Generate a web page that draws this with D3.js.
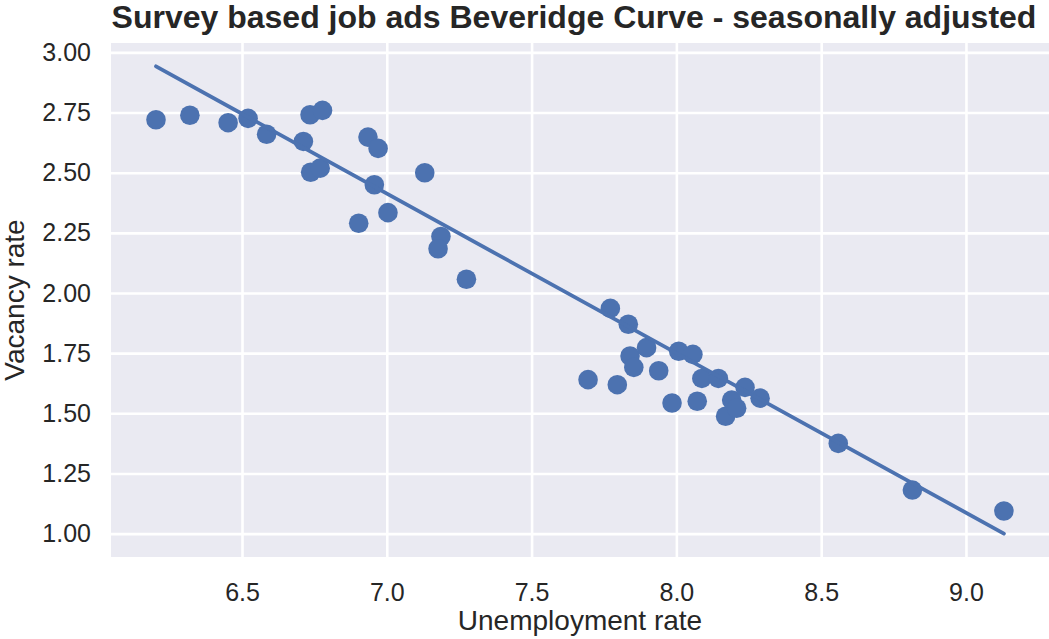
<!DOCTYPE html>
<html>
<head>
<meta charset="utf-8">
<script src="https://cdn.jsdelivr.net/npm/d3@7"></script>
<style>
  html, body { margin: 0; padding: 0; background: #ffffff; }
  svg { display: block; }
  text { font-family: "Liberation Sans", Arial, Helvetica, sans-serif; fill: #262626; }
</style>
</head>
<body>
<svg id="chart" width="1049" height="639"></svg>
<script>
// Unemployment rate (%) for each survey observation
const unemployment = [
  6.203, 6.320, 6.452, 6.521, 6.585, 6.712, 6.735, 6.778, 6.737, 6.770,
  6.903, 6.935, 6.970, 6.957, 7.004, 7.131, 7.187, 7.177, 7.275,
  7.772, 7.834, 7.695, 7.796, 7.840, 7.853, 7.897, 7.939, 7.985,
  8.008, 8.057, 8.072, 8.088, 8.145, 8.170, 8.191, 8.208, 8.237, 8.289,
  8.559, 8.815, 9.131
];
// Vacancy rate (%) for the same observations
const vacancy = [
  2.720, 2.739, 2.708, 2.726, 2.660, 2.630, 2.741, 2.759, 2.502, 2.519,
  2.290, 2.648, 2.601, 2.450, 2.334, 2.500, 2.235, 2.184, 2.057,
  1.936, 1.870, 1.640, 1.619, 1.738, 1.691, 1.773, 1.677, 1.543,
  1.758, 1.745, 1.550, 1.645, 1.645, 1.488, 1.555, 1.521, 1.608, 1.563,
  1.375, 1.181, 1.094
];
// Linear trend: vacancy = intercept + slope * unemployment
const fitIntercept = [7.0565];
const fitSlope = [-0.6633];

const xTicks = [6.5, 7.0, 7.5, 8.0, 8.5, 9.0];
const yTicks = [1.00, 1.25, 1.50, 1.75, 2.00, 2.25, 2.50, 2.75, 3.00];

const titleText = "Survey based job ads Beveridge Curve - seasonally adjusted";
const xLabelText = "Unemployment rate";
const yLabelText = "Vacancy rate";

// Background panel, and the inner span the x limits map onto
const plot = { left: 111, top: 43, right: 1049, bottom: 557 };
const xSpan = [113.6, 1046.3];
const blue = "#4C72B0";

// Trend line spans the observed unemployment range
const n = unemployment.length;
const xMin = d3.min(unemployment), xMax = d3.max(unemployment);
const fitLine = [xMin, xMax].map(u => [u, fitIntercept[0] + fitSlope[0] * u]);

// Axis limits padded by 5% of the data extent
function padded(lo, hi) {
  const m = (hi - lo) * 0.05;
  return [lo - m, hi + m];
}
const xDomain = padded(xMin, xMax);
const yAll = vacancy.concat(fitLine.map(p => p[1]));
const yDomain = padded(d3.min(yAll), d3.max(yAll));

const x = d3.scaleLinear().domain(xDomain).range(xSpan);
const y = d3.scaleLinear().domain(yDomain).range([plot.bottom, plot.top]);

const svg = d3.select("#chart");

// Plot background
svg.append("rect")
  .attr("x", plot.left).attr("y", plot.top)
  .attr("width", plot.right - plot.left)
  .attr("height", plot.bottom - plot.top)
  .attr("fill", "#EAEAF2");

// Grid lines and tick labels
const xAxisG = svg.append("g")
  .attr("transform", `translate(0,${plot.bottom})`)
  .call(d3.axisBottom(x).tickValues(xTicks)
    .tickSize(-(plot.bottom - plot.top)).tickPadding(20)
    .tickFormat(d3.format(".1f")));
const yAxisG = svg.append("g")
  .attr("transform", `translate(${plot.left},0)`)
  .call(d3.axisLeft(y).tickValues(yTicks)
    .tickSize(-(plot.right - plot.left)).tickPadding(20)
    .tickFormat(d3.format(".2f")));

[xAxisG, yAxisG].forEach(g => {
  g.select(".domain").remove();
  g.selectAll(".tick line").attr("stroke", "#ffffff").attr("stroke-width", 2.6);
  g.selectAll(".tick text")
    .attr("fill", "#262626")
    .style("font-size", "25px")
    .style("font-family", "'Liberation Sans', Arial, Helvetica, sans-serif");
});
xAxisG.selectAll(".tick text").attr("dy", "0.95em");

// Scatter points
svg.append("g").selectAll("circle")
  .data(d3.range(n))
  .join("circle")
  .attr("cx", i => x(unemployment[i]))
  .attr("cy", i => y(vacancy[i]))
  .attr("r", 9.8)
  .attr("fill", blue);

// Trend line
svg.append("path")
  .datum(fitLine)
  .attr("d", d3.line().x(d => x(d[0])).y(d => y(d[1])))
  .attr("fill", "none")
  .attr("stroke", blue)
  .attr("stroke-width", 3.8)
  .attr("stroke-linecap", "round");

// Title and axis labels
svg.append("text")
  .attr("x", 574).attr("y", 28)
  .attr("text-anchor", "middle")
  .style("font-size", "32px")
  .style("font-weight", "bold")
  .text(titleText);

svg.append("text")
  .attr("x", (plot.left + plot.right) / 2).attr("y", 630)
  .attr("text-anchor", "middle")
  .style("font-size", "28px")
  .text(xLabelText);

svg.append("text")
  .attr("transform", `translate(24,${(plot.top + plot.bottom) / 2}) rotate(-90)`)
  .attr("text-anchor", "middle")
  .style("font-size", "28px")
  .text(yLabelText);
</script>
</body>
</html>
